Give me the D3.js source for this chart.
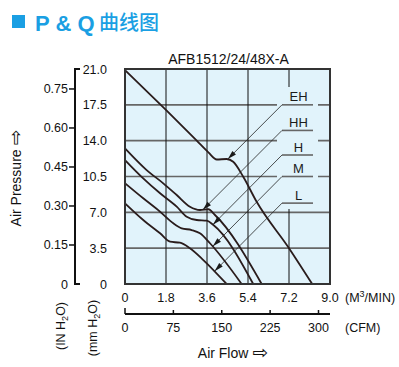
<!DOCTYPE html>
<html><head><meta charset="utf-8">
<script src="https://cdn.jsdelivr.net/npm/d3@7/dist/d3.min.js"></script>
<style>body{margin:0;background:#fff}svg{display:block;font-family:"Liberation Sans",Arial,sans-serif}</style>
</head><body><svg id="c" width="399" height="367"></svg>
<script>
// ---- data ----
const flowTicks = [0, 1.8, 3.6, 5.4, 7.2, 9.0];
const mmTicks = [0, 3.5, 7.0, 10.5, 14.0, 17.5, 21.0];
const inTicks = [0, 0.15, 0.30, 0.45, 0.60, 0.75];
const cfmTicks = [0, 75, 150, 225, 300];
const seriesNames = ["EH", "HH", "H", "M", "L"];
const labelLevels = [17.5, 15.0, 12.6, 10.5, 7.9]; // mmH2O of label underline
const EH = [[0,20.9],[1.83,16.93],[3.15,14.0],[3.66,12.86],[4.03,12.16],[4.46,12.21],[4.75,11.94],[5.19,10.48],[5.78,8.03],[7.2,3.5],[8.22,0]];
const HH = [[0,13.25],[0.95,11.13],[1.68,9.83],[2.27,8.69],[2.85,7.55],[3.29,7.23],[3.66,7.30],[3.95,6.74],[6.0,0]];
const H  = [[0,12.11],[0.80,10.32],[1.54,8.86],[2.27,7.55],[2.71,6.57],[3.15,6.25],[3.59,6.18],[3.88,5.76],[5.63,0]];
const M  = [[0,9.84],[0.80,8.37],[1.54,7.06],[2.12,5.93],[2.49,5.44],[2.93,5.27],[3.29,4.95],[3.73,3.98],[5.12,0]];
const L  = [[0,7.88],[0.80,6.25],[1.54,4.95],[1.98,4.13],[2.41,4.03],[2.85,3.49],[3.44,2.34],[4.46,0]];
const curves = [EH, HH, H, M, L];

// ---- scales ----
const svg = d3.select("#c");
const x = d3.scaleLinear([0, 9], [125, 330]);
const y = d3.scaleLinear([0, 21], [284, 69]);
const yIn = d3.scaleLinear([0, 21 / 25.4], [284, 69]);
const xCfm = d3.scaleLinear([0, 9 / 0.0283168], [125, 330]);
const blue = "#1a9fe3";

// title
svg.append("rect").attr("x", 12).attr("y", 15).attr("width", 13).attr("height", 13).attr("fill", blue);
svg.append("text").attr("x", 35).attr("y", 31).attr("font-size", 22).attr("font-weight", "bold").attr("fill", blue).text("P & Q");
svg.append("text").attr("x", 99).attr("y", 30).attr("font-size", 20).attr("fill", blue)
  .attr("font-family", "'Noto Sans CJK SC',sans-serif").attr("font-weight", 500).text("曲线图");

svg.append("text").attr("x", (x(0) + x(9)) / 2 + 1).attr("y", 64).attr("text-anchor", "middle")
  .attr("font-size", 14).attr("fill", "#111").text("AFB1512/24/48X-A");

// plot background
svg.append("rect").attr("x", x(0)).attr("y", y(21)).attr("width", x(9) - x(0)).attr("height", y(0) - y(21)).attr("fill", "#e1f3fb");

// gridlines
svg.append("g").selectAll("line").data(mmTicks.slice(1, -1)).join("line")
  .attr("x1", x(0)).attr("x2", x(9)).attr("y1", d => y(d)).attr("y2", d => y(d))
  .attr("stroke", "#666").attr("stroke-width", 1.6);
svg.append("g").selectAll("line").data(flowTicks.slice(1, -1)).join("line")
  .attr("x1", d => x(d)).attr("x2", d => x(d)).attr("y1", y(21)).attr("y2", y(0))
  .attr("stroke", "#111").attr("stroke-width", 1);

// mask behind labels
svg.append("rect").attr("x", 277).attr("y", 87).attr("width", 41).attr("height", 122).attr("fill", "#e1f3fb");

// curves
const line = d3.line().x(d => x(d[0])).y(d => y(d[1])).curve(d3.curveMonotoneX);
const paths = svg.append("g").selectAll("path").data(curves).join("path")
  .attr("d", line).attr("fill", "none").attr("stroke", "#2a1c1c").attr("stroke-width", 1.8);

// labels with leaders
const lx0 = 282, lx1 = 313;
paths.each(function (d, i) {
  const ly = y(labelLevels[i]);
  const p = this, len = p.getTotalLength();
  let tip = null, prev = null;
  for (let s = 0; s <= len; s += 0.5) {
    const pt = p.getPointAtLength(s);
    const f = pt.y - (ly + lx0 - pt.x);
    if (prev !== null && prev < 0 && f >= 0) { tip = pt; break; }
    prev = f;
  }
  svg.append("line").attr("x1", lx0).attr("x2", lx1).attr("y1", ly).attr("y2", ly).attr("stroke", "#666").attr("stroke-width", 1.6);
  svg.append("text").attr("x", (lx0 + lx1) / 2 + 1).attr("y", ly - 3.5).attr("text-anchor", "middle").attr("font-size", 13).attr("fill", "#1b1b1b").text(seriesNames[i]);
  if (tip) {
    svg.append("line").attr("x1", lx0).attr("y1", ly).attr("x2", tip.x).attr("y2", tip.y).attr("stroke", "#222").attr("stroke-width", 0.8);
    const u = Math.SQRT1_2;
    const bx = tip.x + 9 * u, by = tip.y - 9 * u;
    svg.append("path").attr("d", `M${tip.x},${tip.y}L${bx + 2.5 * u},${by + 2.5 * u}L${bx - 2.5 * u},${by - 2.5 * u}Z`).attr("fill", "#1a1a1a");
  }
});

// plot border
svg.append("rect").attr("x", x(0)).attr("y", y(21)).attr("width", x(9) - x(0)).attr("height", y(0) - y(21))
  .attr("fill", "none").attr("stroke", "#333").attr("stroke-width", 2);

// mm labels
svg.append("g").selectAll("text").data(mmTicks).join("text")
  .attr("x", 107).attr("y", d => y(d) + 4.5).attr("text-anchor", "end").attr("font-size", 12.5).attr("fill", "#111")
  .text(d => d.toFixed(1) === "0.0" ? "0" : d.toFixed(1));

// inch axis
const ax = 75;
svg.append("path").attr("d", `M${ax + 5},${y(21)}H${ax}V${y(0)}H${ax + 5}`).attr("fill", "none").attr("stroke", "#111").attr("stroke-width", 2);
svg.append("g").selectAll("line").data(inTicks.slice(1)).join("line")
  .attr("x1", ax - 6).attr("x2", ax).attr("y1", d => yIn(d)).attr("y2", d => yIn(d)).attr("stroke", "#111").attr("stroke-width", 1.5);
svg.append("g").selectAll("text").data(inTicks).join("text")
  .attr("x", 68).attr("y", d => yIn(d) + 4.5).attr("text-anchor", "end").attr("font-size", 12.5).attr("fill", "#111")
  .text(d => d === 0 ? "0" : d.toFixed(2));

// y titles
svg.append("text").attr("transform", "translate(21,178) rotate(-90)").attr("text-anchor", "middle").attr("font-size", 14).attr("fill", "#111")
  .text("Air Pressure ").append("tspan").attr("font-family", "'DejaVu Sans'").attr("font-size", 19).attr("dy", 1).text("⇨");
const t1 = svg.append("text").attr("transform", "translate(65,326) rotate(-90)").attr("text-anchor", "middle").attr("font-size", 12.5).attr("fill", "#111");
t1.append("tspan").text("(IN H");
t1.append("tspan").attr("font-size", 9).attr("dy", 3).text("2");
t1.append("tspan").attr("dy", -3).text("O)");
const t2 = svg.append("text").attr("transform", "translate(97,328) rotate(-90)").attr("text-anchor", "middle").attr("font-size", 12.5).attr("fill", "#111");
t2.append("tspan").text("(mm H");
t2.append("tspan").attr("font-size", 9).attr("dy", 3).text("2");
t2.append("tspan").attr("dy", -3).text("O)");

// flow labels
svg.append("g").selectAll("text").data(flowTicks).join("text")
  .attr("x", d => x(d)).attr("y", 302).attr("text-anchor", "middle").attr("font-size", 12.5).attr("fill", "#111")
  .text(d => d === 0 ? "0" : d.toFixed(1));
const tm = svg.append("text").attr("x", 345).attr("y", 302).attr("font-size", 12.5).attr("fill", "#111");
tm.append("tspan").text("(M");
tm.append("tspan").attr("font-size", 9).attr("dy", -5).text("3");
tm.append("tspan").attr("dy", 5).text("/MIN)");

// CFM axis
const cy = 314;
svg.append("line").attr("x1", x(0)).attr("x2", x(9)).attr("y1", cy).attr("y2", cy).attr("stroke", "#111").attr("stroke-width", 2);
svg.append("g").selectAll("line").data(cfmTicks).join("line")
  .attr("x1", d => xCfm(d)).attr("x2", d => xCfm(d)).attr("y1", d => d === 0 ? cy - 6 : cy - 4).attr("y2", cy).attr("stroke", "#111").attr("stroke-width", 1.5);
svg.append("g").selectAll("text").data(cfmTicks).join("text")
  .attr("x", d => xCfm(d)).attr("y", 332).attr("text-anchor", "middle").attr("font-size", 12.5).attr("fill", "#111").text(d => d);
svg.append("text").attr("x", 345).attr("y", 332).attr("font-size", 12.5).attr("fill", "#111").text("(CFM)");

svg.append("text").attr("x", 233).attr("y", 358).attr("text-anchor", "middle").attr("font-size", 14).attr("fill", "#111")
  .text("Air Flow ").append("tspan").attr("font-family", "'DejaVu Sans'").attr("font-size", 19).attr("dy", 1).text("⇨");
</script></body></html>
